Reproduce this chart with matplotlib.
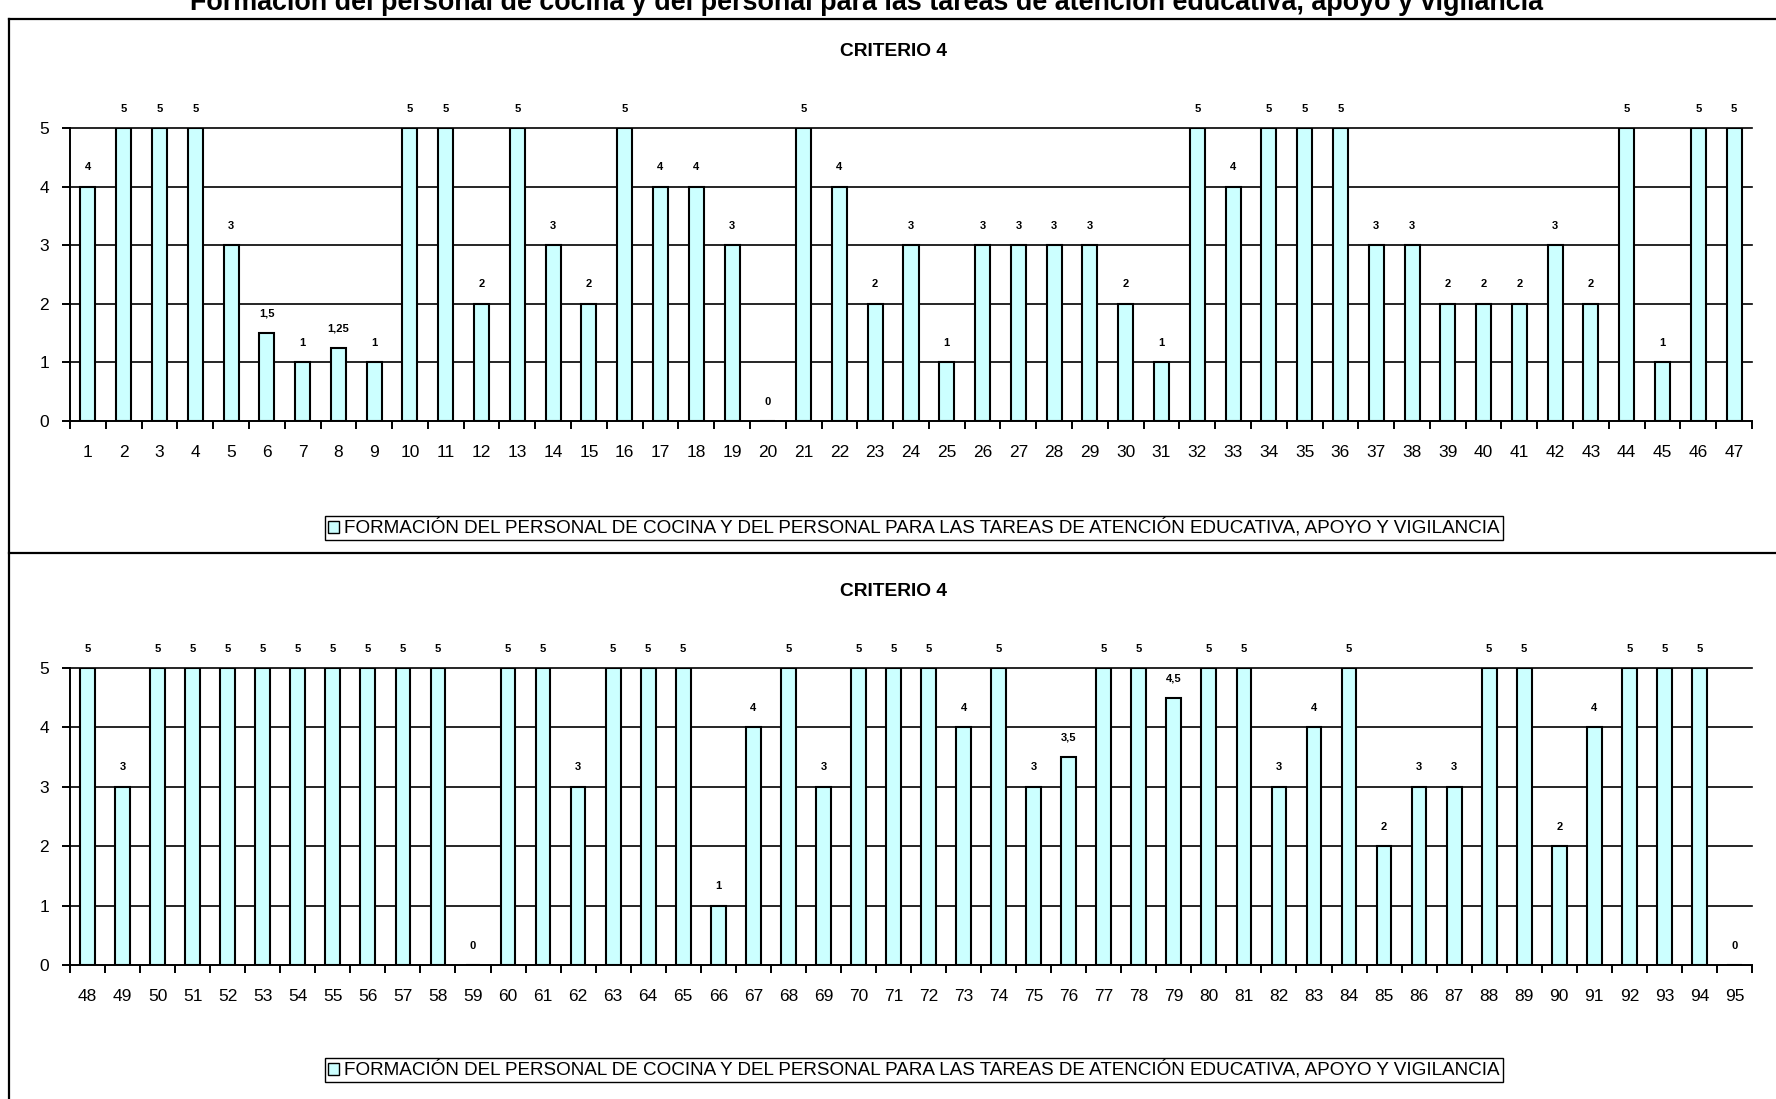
import matplotlib
matplotlib.use("Agg")
import matplotlib.pyplot as plt
from matplotlib.patches import Patch
from matplotlib.lines import Line2D
import numpy as np

plt.rcParams['font.family'] = ['Liberation Sans', 'DejaVu Sans']

W, H, DPI = 1776, 1099, 100

# ---- data ----
top_ids = list(range(1, 48))
top_vals = [4, 5, 5, 5, 3, 1.5, 1, 1.25, 1, 5,
            5, 2, 5, 3, 2, 5, 4, 4, 3, 0,
            5, 4, 2, 3, 1, 3, 3, 3, 3, 2,
            1, 5, 4, 5, 5, 5, 3, 3, 2, 2,
            2, 3, 2, 5, 1, 5, 5]

bottom_ids = list(range(48, 96))
bottom_vals = [5, 3, 5, 5, 5, 5, 5, 5, 5, 5,
               5, 0, 5, 5, 3, 5, 5, 5, 1, 4,
               5, 3, 5, 5, 5, 4, 5, 3, 3.5, 5,
               5, 4.5, 5, 5, 3, 4, 5, 2, 3, 3,
               5, 5, 2, 4, 5, 5, 5, 0]

main_title = ("Formación del personal de cocina y del personal para las tareas "
              "de atención educativa, apoyo y vigilancia")
chart_title = "CRITERIO 4"
series_name = ("FORMACIÓN DEL PERSONAL DE COCINA Y DEL PERSONAL PARA LAS TAREAS "
               "DE ATENCIÓN EDUCATIVA, APOYO Y VIGILANCIA")

FILL = '#CCFFFF'
NARROW = ['Liberation Sans Narrow', 'Liberation Sans', 'DejaVu Sans']

fig = plt.figure(figsize=(W / DPI, H / DPI), dpi=DPI)
fig.patch.set_facecolor('white')


def px_axes(x0, y_top, x1, y_bot):
    return fig.add_axes([x0 / W, 1 - y_bot / H, (x1 - x0) / W, (y_bot - y_top) / H])


def fmt(v):
    return f"{v:g}".replace('.', ',')


def draw_panel(ax, ids, vals):
    n = len(ids)
    x = np.arange(n)
    ax.set_facecolor('none')
    for yv in range(1, 6):
        ax.axhline(yv, color='black', lw=1.2, zorder=1, clip_on=False)
    ax.bar(x, vals, width=0.42, color=FILL, edgecolor='black', linewidth=1.5, zorder=3)
    ax.set_xlim(-0.5, n - 0.5)
    ax.set_ylim(0, 5)

    for xi, v in zip(x, vals):
        ax.annotate(fmt(v), (xi, v), xytext=(0, 14), textcoords='offset points',
                    ha='center', va='center', fontsize=8, fontweight='bold',
                    family=NARROW, annotation_clip=False, zorder=4)

    for side in ('top', 'right'):
        ax.spines[side].set_visible(False)
    for side in ('left', 'bottom'):
        ax.spines[side].set_linewidth(1.4)
        ax.spines[side].set_zorder(5)

    # category boundaries carry the tick marks, centres carry the labels
    ax.set_xticks(np.arange(n + 1) - 0.5)
    ax.set_xticklabels([])
    ax.set_xticks(x, minor=True)
    ax.set_xticklabels([str(i) for i in ids], minor=True, fontsize=12.5)
    ax.tick_params(axis='x', which='major', direction='out', length=6, width=1.4)
    ax.tick_params(axis='x', which='minor', length=0, pad=17)
    ax.set_yticks(range(0, 6))
    ax.set_yticklabels([str(i) for i in range(0, 6)], fontsize=12.5)
    ax.tick_params(axis='y', direction='out', length=6, width=1.4, pad=9)


ax_top = px_axes(70, 128, 1752, 421)
draw_panel(ax_top, top_ids, top_vals)
ax_bot = px_axes(70, 668, 1752, 965)
draw_panel(ax_bot, bottom_ids, bottom_vals)

# chart titles
for y in (51, 591):
    fig.text(893 / W, 1 - y / H, chart_title, ha='center', va='center',
             fontsize=13.8, fontweight='bold', family=NARROW)

# legends
for y in (528, 1070):
    fig.legend(handles=[Patch(facecolor=FILL, edgecolor='black', linewidth=1.0)],
               labels=[series_name], loc='center',
               bbox_to_anchor=(914 / W, 1 - y / H), frameon=True, fancybox=False,
               edgecolor='black', framealpha=1, handlelength=0.55, handleheight=0.55,
               handletextpad=0.3, borderpad=0.15, borderaxespad=0, fontsize=13.6)

# panel frames
lw = 1.6
fig.add_artist(Line2D([9 / W, 9 / W], [0, 1 - 19 / H], transform=fig.transFigure,
                      color='black', lw=lw))
fig.add_artist(Line2D([9 / W, 1], [1 - 19 / H, 1 - 19 / H], transform=fig.transFigure,
                      color='black', lw=lw))
fig.add_artist(Line2D([9 / W, 1], [1 - 553 / H, 1 - 553 / H], transform=fig.transFigure,
                      color='black', lw=lw))

# overall heading, running off the top edge
fig.text(866 / W, 1 - 10 / H, main_title, ha='center', va='baseline',
         fontsize=19.4, fontweight='bold')

fig.savefig('out.png', dpi=DPI, facecolor='white')
